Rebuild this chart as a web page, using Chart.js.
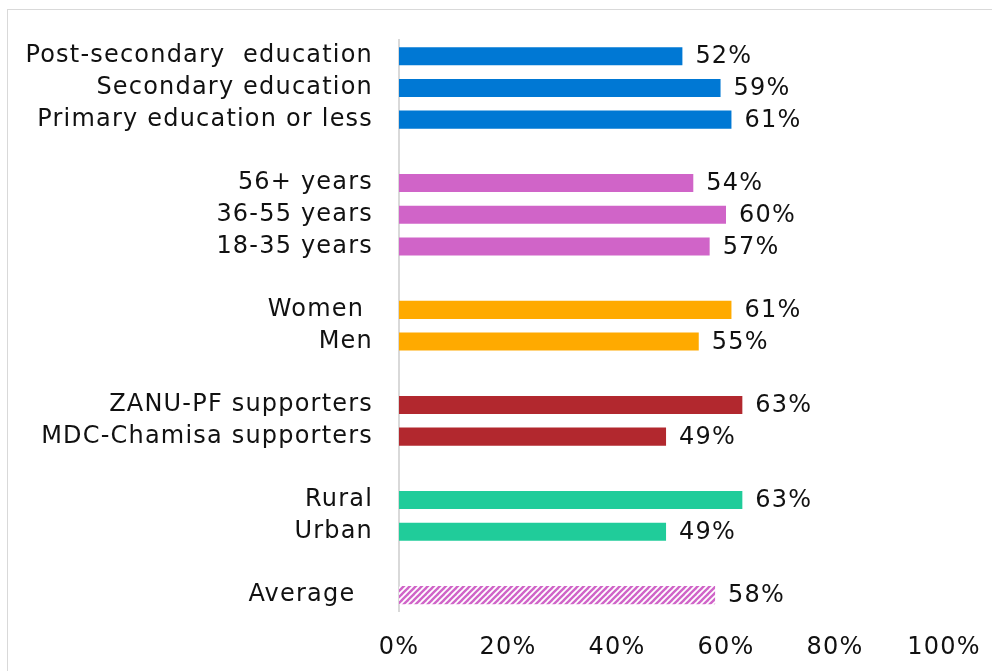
<!DOCTYPE html>
<html>
<head>
<meta charset="utf-8">
<script src="https://cdn.jsdelivr.net/npm/chart.js@4"></script>
<style>
  html, body { margin: 0; padding: 0; background: #fff; overflow: hidden; }
  #frame { position: absolute; left: 7px; top: 9px; width: 1100px; height: 800px; border: 1.5px solid #d9d9d9; }
  #chart { position: absolute; left: 0; top: 0; }
</style>
</head>
<body>
<div id="frame"></div>
<canvas id="chart" width="992" height="671"></canvas>
<script>
/* ==== data ========================================================= */
const education = ['Post-secondary  education', 'Secondary education', 'Primary education or less'];
const educationPct = [52, 59, 61];
const age = ['56+ years', '36-55 years', '18-35 years'];
const agePct = [54, 60, 57];
const gender = ['Women ', 'Men'];
const genderPct = [61, 55];
const party = ['ZANU-PF supporters', 'MDC-Chamisa supporters'];
const partyPct = [63, 49];
const location_ = ['Rural', 'Urban'];
const locationPct = [63, 49];
const average = ['Average  '];
const averagePct = [58];
const xTicks = [0, 20, 40, 60, 80, 100];

/* ==== helpers ====================================================== */
const FONT = '"DejaVu Sans", sans-serif';
const SIZE = 24;
const SPACING = '1.2px';
const pink = '#d064c8';

// diagonal hatch for the average bar
const hatch = (() => {
  const c = document.createElement('canvas');
  c.width = c.height = 6;
  const g = c.getContext('2d');
  g.fillStyle = '#fff'; g.fillRect(0, 0, 6, 6);
  g.strokeStyle = pink; g.lineWidth = 2.4;
  [[-6, 6, 6, -6], [0, 6, 6, 0], [0, 12, 12, 0]].forEach(([a, b, c2, d]) => {
    g.beginPath(); g.moveTo(a, b); g.lineTo(c2, d); g.stroke();
  });
  return g.createPattern(c, 'repeat');
})();

const groups = [
  [education, educationPct, '#0078d4'],
  [age, agePct, pink],
  [gender, genderPct, '#ffaa00'],
  [party, partyPct, '#b2282e'],
  [location_, locationPct, '#20cc9a'],
  [average, averagePct, hatch]
];

const labels = [], values = [], colors = [];
groups.forEach(([l, v, c], i) => {
  if (i) { labels.push(''); values.push(null); colors.push('rgba(0,0,0,0)'); }
  l.forEach((s, j) => { labels.push(s); values.push(v[j]); colors.push(c); });
});

/* ==== plugins ====================================================== */
// wider text, closer to the original geometric face
const spacing = {
  id: 'spacing',
  beforeLayout(chart) { chart.ctx.letterSpacing = SPACING; },
  beforeDraw(chart) { chart.ctx.letterSpacing = SPACING; }
};

const valueLabels = {
  id: 'valueLabels',
  afterDatasetsDraw(chart) {
    const { ctx } = chart;
    ctx.save();
    ctx.letterSpacing = SPACING;
    ctx.font = `${SIZE}px ${FONT}`;
    ctx.fillStyle = '#111';
    ctx.textAlign = 'left';
    ctx.textBaseline = 'middle';
    chart.getDatasetMeta(0).data.forEach((bar, i) => {
      if (values[i] == null) return;
      ctx.fillText(values[i] + '%', bar.x + 13, bar.y + 1);
    });
    ctx.restore();
  }
};

/* ==== chart ======================================================== */
new Chart(document.getElementById('chart'), {
  type: 'bar',
  data: {
    labels,
    datasets: [{
      data: values,
      backgroundColor: colors,
      borderWidth: 0,
      barPercentage: 0.57,
      categoryPercentage: 1
    }]
  },
  options: {
    indexAxis: 'y',
    responsive: false,
    animation: false,
    layout: { padding: { top: 38, right: 48, left: 0, bottom: 0 } },
    plugins: { legend: { display: false }, tooltip: { enabled: false } },
    scales: {
      x: {
        min: 0, max: 100,
        afterBuildTicks: s => { s.ticks = xTicks.map(v => ({ value: v })); },
        afterFit: s => { s.height = 60; s.paddingLeft = 0; s.paddingRight = 0; },
        grid: { display: false, drawTicks: false },
        border: { display: false },
        ticks: { padding: 22, color: '#111', font: { family: FONT, size: SIZE }, callback: v => v + '%' }
      },
      y: {
        afterFit: s => { s.width = 399; },
        grid: { display: false, drawTicks: false },
        border: { display: true, color: '#d9d9d9', width: 2 },
        ticks: { padding: 26, color: '#111', font: { family: FONT, size: SIZE }, autoSkip: false }
      }
    }
  },
  plugins: [spacing, valueLabels]
});
</script>
</body>
</html>
